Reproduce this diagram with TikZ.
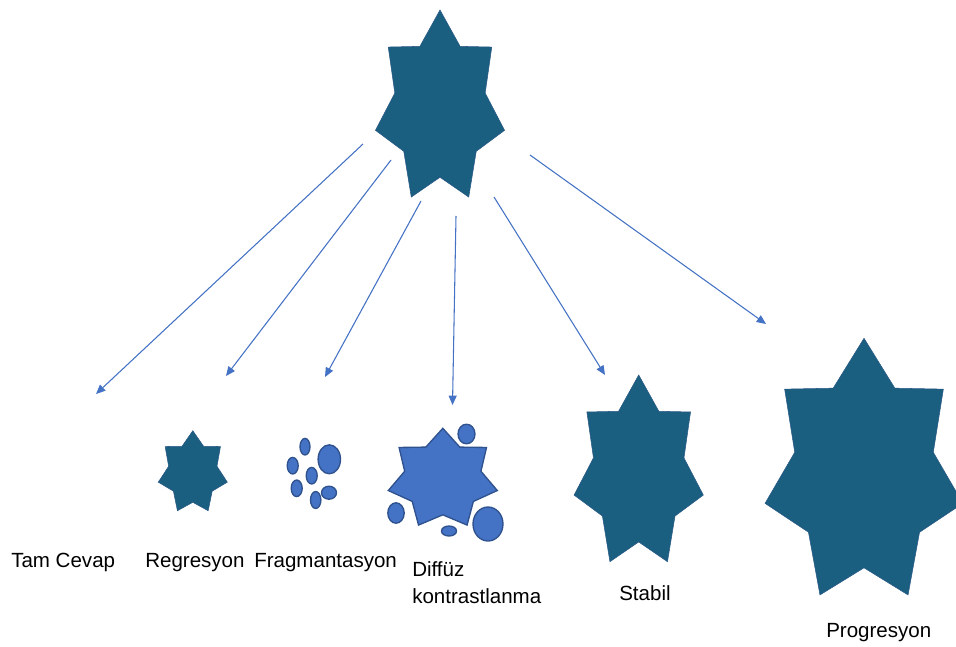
\documentclass[tikz,border=0pt]{standalone}
\usepackage{fontspec}
\setmainfont{Liberation Sans}
\usetikzlibrary{arrows.meta}

\definecolor{koyu}{HTML}{1A5E80}
\definecolor{koyukenar}{HTML}{2B5A86}
\definecolor{acik}{HTML}{4472C4}
\definecolor{acikkenar}{HTML}{2F528F}

% 7 point star: center x, center y, x radius, y radius, style
\newcommand{\yildiz}[5]{%
  \begin{scope}[shift={(#1,#2)}]
    \draw[#5] (-90:#3 and #4)
      \foreach \k [evaluate=\k as \aci using {-90+\k*180/7},
                   evaluate=\k as \oran using {1-0.3*mod(\k,2)}] in {1,...,13}
      { -- (\aci:\oran*#3 and \oran*#4) } -- cycle;
  \end{scope}}

\begin{document}
\begin{tikzpicture}[x=0.75pt, y=-0.75pt,
    koyuyildiz/.style={fill=koyu, draw=koyukenar, line width=0.4pt},
    acikyildiz/.style={fill=acik, draw=acikkenar, line width=1pt},
    ok/.style={draw=acik, line width=0.8pt, -{Triangle[length=7pt,width=6pt]}},
    etiket/.style={font=\fontsize{15.4}{20.25}\selectfont, inner sep=0pt}]
    \useasboundingbox (0,0) rectangle (956,646);
    \clip (0,0) rectangle (956,646);

    % stars
    \yildiz{440}{108.4}{66.2}{98.4}{koyuyildiz}
    \yildiz{192.8}{472.8}{35.4}{42.1}{koyuyildiz}
    \yildiz{638.7}{473.2}{66.3}{98.2}{koyuyildiz}
    \yildiz{864}{473.3}{101.5}{135}{koyuyildiz}
    \yildiz{442.8}{479.2}{55.9}{50.9}{acikyildiz}

    % fragments
    \draw[acikyildiz] (305,446.7) ellipse (5 and 8.3);
    \draw[acikyildiz] (329.3,459.3) ellipse (11.2 and 14.5);
    \draw[acikyildiz] (292.7,465.7) ellipse (5.5 and 8.3);
    \draw[acikyildiz] (311.7,475.7) ellipse (5.5 and 8.3);
    \draw[acikyildiz] (296.7,488.3) ellipse (5.5 and 8.3);
    \draw[acikyildiz] (329,492.7) ellipse (7.5 and 6.5);
    \draw[acikyildiz] (315.7,500) ellipse (5.2 and 8.5);
    \draw[acikyildiz] (466.5,434) ellipse (8.5 and 9.8);
    \draw[acikyildiz] (396,513) ellipse (8.2 and 10.2);
    \draw[acikyildiz] (449,531) ellipse (7.5 and 5);
    \draw[acikyildiz] (488,524) ellipse (15 and 17);

    % arrows
    \coordinate (b1) at (363,144);   \coordinate (s1) at (96,394);
    \coordinate (b2) at (391,160);   \coordinate (s2) at (226,376);
    \coordinate (b3) at (421,201);   \coordinate (s3) at (325,377);
    \coordinate (b4) at (456,216);   \coordinate (s4) at (452.5,405);
    \coordinate (b5) at (494,197);   \coordinate (s5) at (605,375);
    \coordinate (b6) at (530,155);   \coordinate (s6) at (766,324);
    \foreach \i in {1,...,6}
        \draw[ok] (b\i) -- (s\i);

    % labels
    \node[etiket, anchor=base west] (tam) at (11,567) {Tam Cevap};
    \node[etiket, anchor=base west] (reg) at (145,567) {Regresyon};
    \node[etiket, anchor=base west] (frag) at (254,567) {Fragmantasyon};
    \node[etiket, anchor=north west, align=left] (dif) at (412,561) {Diffüz\\kontrastlanma};
    \node[etiket, anchor=base west] (sta) at (619,600) {Stabil};
    \node[etiket, anchor=base west] (pro) at (826,637) {Progresyon};
\end{tikzpicture}
\end{document}
